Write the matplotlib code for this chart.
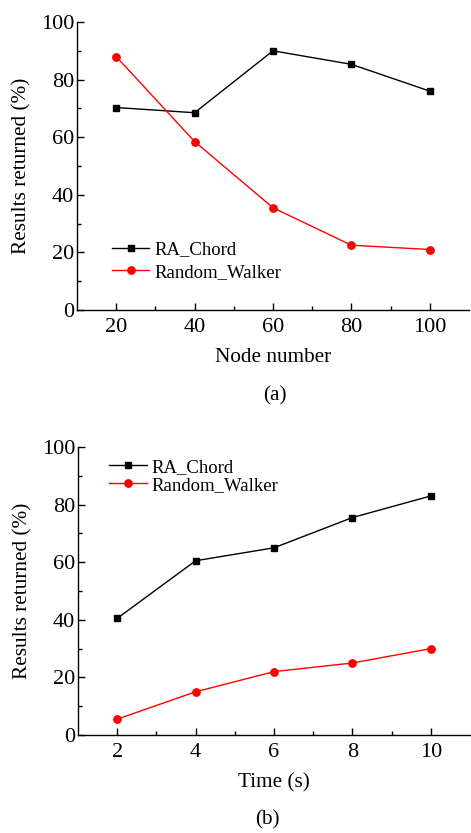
import matplotlib
matplotlib.use("Agg")
import matplotlib.pyplot as plt

nodes = [20, 40, 60, 80, 100]
a_chord = [70.3, 68.5, 90.0, 85.3, 76.0]
a_walker = [88.0, 58.5, 35.5, 22.5, 21.0]

times = [2, 4, 6, 8, 10]
b_chord = [40.5, 60.5, 65.0, 75.5, 83.0]
b_walker = [5.5, 15.0, 22.0, 25.0, 30.0]

plt.rcParams['font.family'] = ['Liberation Serif', 'DejaVu Serif']
plt.rcParams['mathtext.fontset'] = 'stix'

fig = plt.figure(figsize=(4.71, 8.33), dpi=100)
W, H = 471, 833

def make_ax(left, top, right, bottom):
    return fig.add_axes([left / W, 1 - bottom / H, (right - left) / W, (bottom - top) / H])

def style(ax, xlim, xticks, xminor):
    ax.set_xlim(*xlim)
    ax.set_ylim(0, 100)
    ax.set_xticks(xticks)
    ax.set_xticks(xminor, minor=True)
    ax.set_yticks([0, 20, 40, 60, 80, 100])
    ax.set_yticks([10, 30, 50, 70, 90], minor=True)
    ax.spines['top'].set_visible(False)
    ax.spines['right'].set_visible(False)
    for s in ('left', 'bottom'):
        ax.spines[s].set_linewidth(1.0)
    ax.tick_params(which='both', direction='in', labelsize=16, width=1.0)
    ax.tick_params(which='major', length=5)
    ax.tick_params(which='minor', length=3)
    ax.tick_params(axis='x', pad=6)
    ax.tick_params(axis='y', pad=2)

ax1 = make_ax(77, 22, 469, 310)
ax1.plot(nodes, a_chord, color='black', marker='s', markersize=4.8, lw=1.0, label='RA_Chord')
ax1.plot(nodes, a_walker, color='red', marker='o', markersize=5.3, lw=1.0, label='Random_Walker')
style(ax1, (10, 110), nodes, [30, 50, 70, 90])
ax1.set_xlabel('Node number', fontsize=15.3, labelpad=8)
ax1.set_ylabel('Results returned (%)', fontsize=15.3, labelpad=7)
ax1.legend(loc='upper left', bbox_to_anchor=(0.07, 0.265), frameon=False, fontsize=13.5,
           handlelength=2.0, handletextpad=0.25, labelspacing=0.3, borderaxespad=0)
fig.text(275 / W, 1 - 396 / H, '(a)', ha='center', va='center', fontsize=15.3)

ax2 = make_ax(78, 447, 470, 735)
ax2.plot(times, b_chord, color='black', marker='s', markersize=4.8, lw=1.0, label='RA_Chord')
ax2.plot(times, b_walker, color='red', marker='o', markersize=5.3, lw=1.0, label='Random_Walker')
style(ax2, (1, 11), times, [3, 5, 7, 9])
ax2.set_xlabel('Time (s)', fontsize=15.3, labelpad=8)
ax2.set_ylabel('Results returned (%)', fontsize=15.3, labelpad=7)
ax2.legend(loc='upper left', bbox_to_anchor=(0.06, 0.985), frameon=False, fontsize=13.5,
           handlelength=2.0, handletextpad=0.25, labelspacing=0.05, borderaxespad=0)
fig.text(267 / W, 1 - 820 / H, '(b)', ha='center', va='center', fontsize=15.3)

fig.savefig('out.png', dpi=100)
